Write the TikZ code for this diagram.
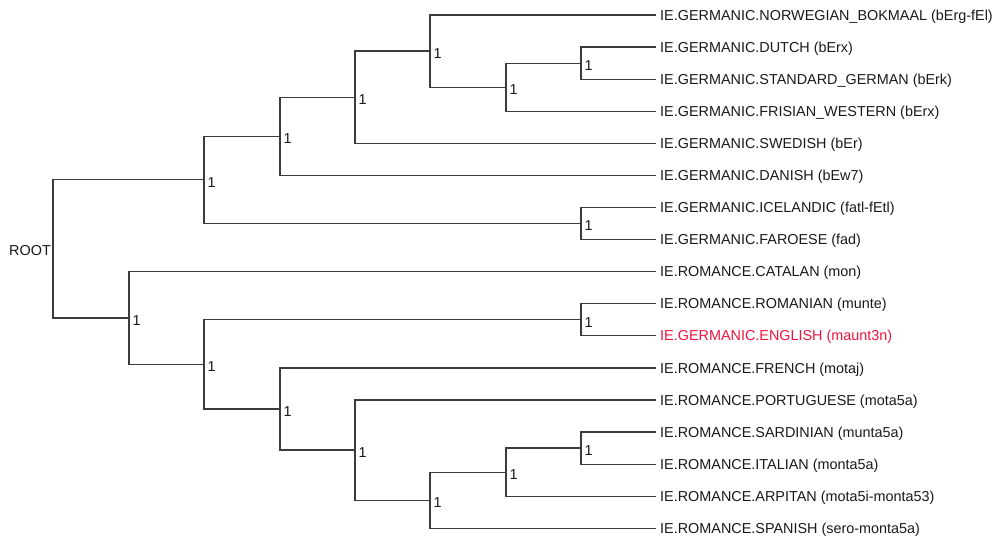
\documentclass[tikz,border=0pt]{standalone}
\usepackage{fontspec}
\setmainfont{Liberation Sans}
\definecolor{treeline}{RGB}{60,60,60}
\definecolor{hilite}{RGB}{238,20,62}
\definecolor{txt}{RGB}{25,25,25}
\begin{document}
\begin{tikzpicture}[x=1pt,y=-1pt,
  edge/.style={draw=treeline,line width=1.2pt},
  leaftext/.style={anchor=base west,inner sep=0pt,text=txt,font=\fontsize{14.4}{17}\selectfont},
  support/.style={anchor=west,inner sep=0pt,xshift=3.5pt,yshift=-2.5pt,text=txt,font=\fontsize{14.4}{17}\selectfont},
  hl/.style={text=hilite}]
\useasboundingbox (0,0) rectangle (996,537);
% leaf ends
\coordinate (n0) at (656,15.0);
\coordinate (n1) at (656,47.1);
\coordinate (n2) at (656,79.2);
\coordinate (n3) at (656,111.2);
\coordinate (n4) at (656,143.3);
\coordinate (n5) at (656,175.4);
\coordinate (n6) at (656,207.5);
\coordinate (n7) at (656,239.6);
\coordinate (n8) at (656,271.6);
\coordinate (n9) at (656,303.7);
\coordinate (n10) at (656,335.8);
\coordinate (n11) at (656,367.9);
\coordinate (n12) at (656,399.9);
\coordinate (n13) at (656,432.0);
\coordinate (n14) at (656,464.1);
\coordinate (n15) at (656,496.2);
\coordinate (n16) at (656,528.3);
% internal nodes
\coordinate (a1) at (581,63.15);
\coordinate (a2) at (506,87.2);
\coordinate (a3) at (430,51.1);
\coordinate (a4) at (355,97.2);
\coordinate (a5) at (280,136.3);
\coordinate (a6) at (581,223.5);
\coordinate (g) at (204,179.9);
\coordinate (b1) at (581,319.75);
\coordinate (b2) at (581,448.05);
\coordinate (b3) at (506,472.1);
\coordinate (b4) at (430,500.2);
\coordinate (b5) at (355,450.05);
\coordinate (b6) at (280,409.0);
\coordinate (b7) at (204,364.4);
\coordinate (r) at (129,318.0);
\coordinate (root) at (53,248.9);
% edges
\draw[edge] (a1) |- (n1);  \draw[edge] (a1) |- (n2);
\draw[edge] (a2) |- (a1);  \draw[edge] (a2) |- (n3);
\draw[edge] (a3) |- (n0);  \draw[edge] (a3) |- (a2);
\draw[edge] (a4) |- (a3);  \draw[edge] (a4) |- (n4);
\draw[edge] (a5) |- (a4);  \draw[edge] (a5) |- (n5);
\draw[edge] (a6) |- (n6);  \draw[edge] (a6) |- (n7);
\draw[edge] (g) |- (a5);   \draw[edge] (g) |- (a6);
\draw[edge] (b1) |- (n9);  \draw[edge] (b1) |- (n10);
\draw[edge] (b2) |- (n13); \draw[edge] (b2) |- (n14);
\draw[edge] (b3) |- (b2);  \draw[edge] (b3) |- (n15);
\draw[edge] (b4) |- (b3);  \draw[edge] (b4) |- (n16);
\draw[edge] (b5) |- (n12); \draw[edge] (b5) |- (b4);
\draw[edge] (b6) |- (n11); \draw[edge] (b6) |- (b5);
\draw[edge] (b7) |- (b1);  \draw[edge] (b7) |- (b6);
\draw[edge] (r) |- (n8);   \draw[edge] (r) |- (b7);
\draw[edge] (root) |- (g); \draw[edge] (root) |- (r);
% support labels
\foreach \p in {a1,a2,a3,a4,a5,a6,g,b1,b2,b3,b4,b5,b6,b7,r}
  \node[support] (s\p) at (\p) {1};
\node[anchor=east,inner sep=0pt,xshift=-2pt,yshift=-2pt,text=txt,font=\fontsize{14.4}{17}\selectfont] (rootlbl) at (root) {ROOT};
% leaf labels
\node[leaftext] (t0) at ([xshift=4pt,yshift=-5.15pt]n0) {IE.GERMANIC.NORWEGIAN\_BOKMAAL (bErg-fEl)};
\node[leaftext] (t1) at ([xshift=4pt,yshift=-5.15pt]n1) {IE.GERMANIC.DUTCH (bErx)};
\node[leaftext] (t2) at ([xshift=4pt,yshift=-5.15pt]n2) {IE.GERMANIC.STANDARD\_GERMAN (bErk)};
\node[leaftext] (t3) at ([xshift=4pt,yshift=-5.15pt]n3) {IE.GERMANIC.FRISIAN\_WESTERN (bErx)};
\node[leaftext] (t4) at ([xshift=4pt,yshift=-5.15pt]n4) {IE.GERMANIC.SWEDISH (bEr)};
\node[leaftext] (t5) at ([xshift=4pt,yshift=-5.15pt]n5) {IE.GERMANIC.DANISH (bEw7)};
\node[leaftext] (t6) at ([xshift=4pt,yshift=-5.15pt]n6) {IE.GERMANIC.ICELANDIC (fatl-fEtl)};
\node[leaftext] (t7) at ([xshift=4pt,yshift=-5.15pt]n7) {IE.GERMANIC.FAROESE (fad)};
\node[leaftext] (t8) at ([xshift=4pt,yshift=-5.15pt]n8) {IE.ROMANCE.CATALAN (mon)};
\node[leaftext] (t9) at ([xshift=4pt,yshift=-5.15pt]n9) {IE.ROMANCE.ROMANIAN (munte)};
\node[leaftext,hl] (t10) at ([xshift=4pt,yshift=-5.15pt]n10) {IE.GERMANIC.ENGLISH (maunt3n)};
\node[leaftext] (t11) at ([xshift=4pt,yshift=-5.15pt]n11) {IE.ROMANCE.FRENCH (motaj)};
\node[leaftext] (t12) at ([xshift=4pt,yshift=-5.15pt]n12) {IE.ROMANCE.PORTUGUESE (mota5a)};
\node[leaftext] (t13) at ([xshift=4pt,yshift=-5.15pt]n13) {IE.ROMANCE.SARDINIAN (munta5a)};
\node[leaftext] (t14) at ([xshift=4pt,yshift=-5.15pt]n14) {IE.ROMANCE.ITALIAN (monta5a)};
\node[leaftext] (t15) at ([xshift=4pt,yshift=-5.15pt]n15) {IE.ROMANCE.ARPITAN (mota5i-monta53)};
\node[leaftext] (t16) at ([xshift=4pt,yshift=-5.15pt]n16) {IE.ROMANCE.SPANISH (sero-monta5a)};
\end{tikzpicture}
\end{document}
